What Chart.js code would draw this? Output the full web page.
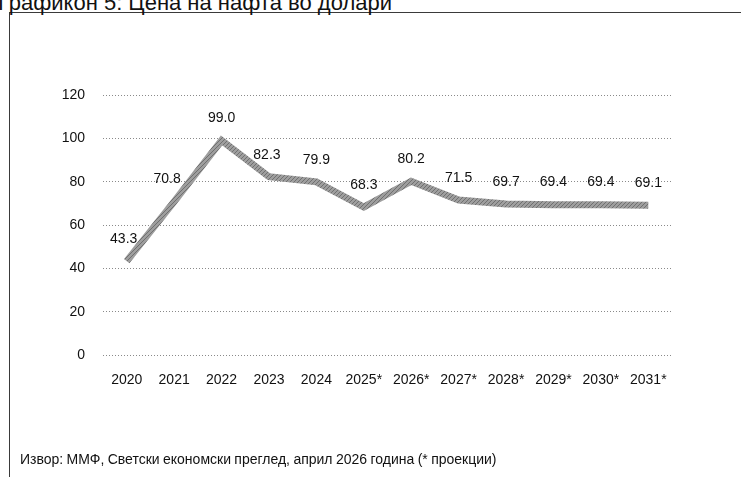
<!DOCTYPE html>
<html>
<head>
<meta charset="utf-8">
<script src="https://cdn.jsdelivr.net/npm/chart.js@4.4.1/dist/chart.umd.min.js"></script>
<style>
    html, body { margin: 0; padding: 0; background: #fff; overflow: hidden; }
    #wrap { position: relative; width: 741px; height: 477px; }
    #frame {
        position: absolute; left: 9px; top: 12px; right: -2px; bottom: -2px;
        border-top: 1px solid #3a3a3a; border-left: 1px solid #3a3a3a;
    }
    #title {
        position: absolute; left: -2px; top: -10px;
        font: 22px "Liberation Sans", Arial, sans-serif; color: #111; white-space: nowrap;
    }
    #source {
        position: absolute; left: 20px; top: 451px;
        font: 14px "Liberation Sans", Arial, sans-serif; color: #111; white-space: nowrap;
        word-spacing: -0.5px;
    }
    canvas { position: absolute; left: 0; top: 0; }
</style>
</head>
<body>
<div id="wrap">
    <div id="frame"></div>
    <div id="title">Графикон 5: Цена на нафта во долари</div>
    <canvas id="chart" width="741" height="477"></canvas>
    <div id="source">Извор: ММФ, Светски економски преглед, април 2026 година (* проекции)</div>
</div>
<script>
// Oil price, USD per barrel
const years = ['2020', '2021', '2022', '2023', '2024', '2025*', '2026*', '2027*', '2028*', '2029*', '2030*', '2031*'];
const oilPrice = [43.3, 70.8, 99.0, 82.3, 79.9, 68.3, 80.2, 71.5, 69.7, 69.4, 69.4, 69.1];
const yTicks = [0, 20, 40, 60, 80, 100, 120];

// horizontal nudge for the first two value labels, which sit on the rising segment
const labelShiftX = [-3, -7, 0, -2, 0, 0, 0, 0, 0, 0, 0, 0];

const FONT = '"Liberation Sans", Arial, sans-serif';

// hatched grey texture for the thick line
function hatchPattern() {
    const c = document.createElement('canvas');
    c.width = 4; c.height = 4;
    const g = c.getContext('2d');
    g.fillStyle = '#9e9e9e';
    g.fillRect(0, 0, 4, 4);
    g.strokeStyle = '#707070';
    g.lineWidth = 1;
    g.beginPath();
    g.moveTo(0, 4); g.lineTo(4, 0);
    g.stroke();
    return g.createPattern(c, 'repeat');
}

const valueLabels = {
    id: 'valueLabels',
    afterDatasetsDraw(chart) {
        const ctx = chart.ctx;
        const meta = chart.getDatasetMeta(0);
        ctx.save();
        ctx.font = '14px ' + FONT;
        ctx.fillStyle = '#111';
        ctx.textAlign = 'center';
        ctx.textBaseline = 'middle';
        meta.data.forEach((pt, i) => {
            const v = chart.data.datasets[0].data[i];
            ctx.fillText(v.toFixed(1), pt.x + labelShiftX[i], pt.y - 22);
        });
        ctx.restore();
    }
};

const ctx = document.getElementById('chart').getContext('2d');
new Chart(ctx, {
    type: 'line',
    data: {
        labels: years,
        datasets: [{
            data: oilPrice,
            borderColor: hatchPattern(),
            borderWidth: 7,
            pointRadius: 0,
            tension: 0,
            fill: false
        }]
    },
    options: {
        responsive: false,
        animation: false,
        layout: { padding: { left: 58, right: 69, top: 95, bottom: 82 } },
        plugins: {
            legend: { display: false },
            tooltip: { enabled: false },
            title: { display: false }
        },
        scales: {
            x: {
                offset: true,
                grid: { display: false },
                border: { display: false },
                ticks: {
                    color: '#111',
                    font: { family: FONT, size: 14 },
                    padding: 9,
                    maxRotation: 0,
                    autoSkip: false
                },
                afterFit(axis) { axis.height = 40; }
            },
            y: {
                min: 0,
                max: 120,
                afterBuildTicks(axis) { axis.ticks = yTicks.map(v => ({ value: v })); },
                grid: {
                    color: '#8a8a8a',
                    lineWidth: 1,
                    drawTicks: false
                },
                border: { display: false, dash: [1, 2] },
                ticks: {
                    color: '#111',
                    font: { family: FONT, size: 14 },
                    padding: 18
                },
                afterFit(axis) { axis.width = 45; }
            }
        }
    },
    plugins: [valueLabels]
});
</script>
</body>
</html>
